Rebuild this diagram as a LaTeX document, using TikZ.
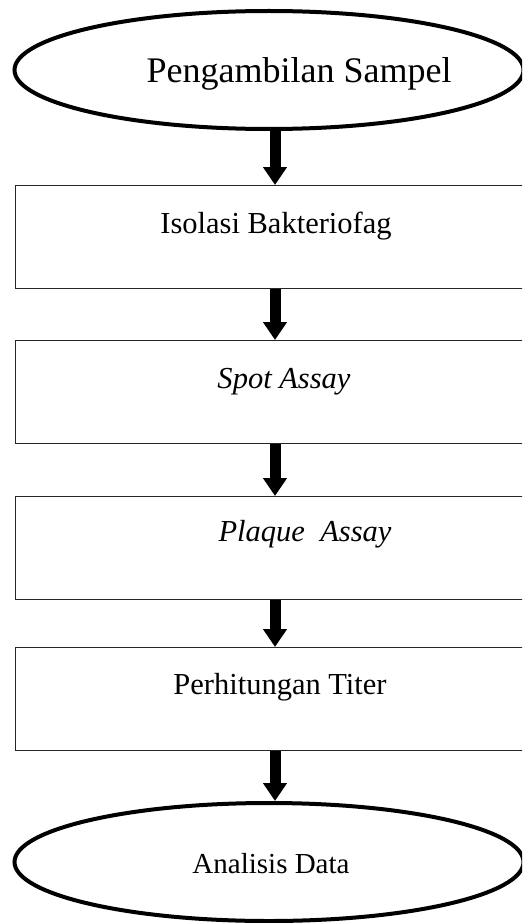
\documentclass[tikz,border=0pt]{standalone}
\usepackage{fontspec}
\setmainfont{Liberation Serif}
\usetikzlibrary{shapes.geometric,arrows.meta,calc}
\tikzset{
  oval/.style={ellipse, draw=black, line width=4pt, minimum width=509pt, minimum height=118pt, inner sep=0pt},
  stepbox/.style={rectangle, draw=black!85, line width=1.3pt, minimum width=515pt, minimum height=103pt, anchor=north west, inner sep=0pt},
  lbl/.style={font=\fontsize{30.5}{34}\selectfont, inner sep=0pt, anchor=base},
  bigarrow/.style={line width=11pt, -{Triangle[length=18pt,width=23pt]}, shorten >=0pt}
}
\begin{document}
\begin{tikzpicture}[x=1pt,y=1pt]
\useasboundingbox (0,0) rectangle (522,-923);
\clip (0,0) rectangle (522,-923);
\node[oval] (e1) at (269,-70) {};
\node[lbl, font=\fontsize{36}{40}\selectfont] (t0) at (299,-83) {Pengambilan Sampel};
\node[stepbox] (b1) at (15,-185) {};
\node[lbl] (t1) at (276,-233) {Isolasi Bakteriofag};
\node[stepbox] (b2) at (15,-340) {};
\node[lbl] (t2) at (284,-388) {\itshape Spot Assay};
\node[stepbox] (b3) at (15,-496) {};
\node[lbl] (t3) at (305,-541) {\itshape Plaque\ \ Assay};
\node[stepbox] (b4) at (15,-647) {};
\node[lbl] (t4) at (280,-694) {Perhitungan Titer};
\node[oval] (e2) at (269,-862) {};
\node[lbl, font=\fontsize{29}{32}\selectfont] (t5) at (271,-873) {Analisis Data};
\coordinate (ax) at (275,0);
\draw[bigarrow] (e1.south -| ax) -- (b1.north west -| ax);
\draw[bigarrow] (b1.south west -| ax) -- (b2.north west -| ax);
\draw[bigarrow] (b2.south west -| ax) -- (b3.north west -| ax);
\draw[bigarrow] (b3.south west -| ax) -- (b4.north west -| ax);
\draw[bigarrow] (b4.south west -| ax) -- (e2.north -| ax);
\end{tikzpicture}
\end{document}
